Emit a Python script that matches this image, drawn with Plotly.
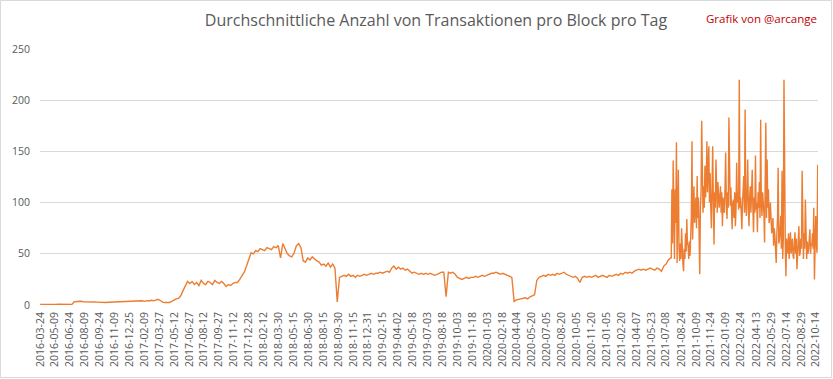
import pandas as pd
import plotly.graph_objects as go

# ---------------- data ----------------
title_text = "Durchschnittliche Anzahl von Transaktionen pro Block pro Tag"
credit_text = "Grafik von @arcange"

# weekly readings, starting 2016-03-24, one value every 7 days
weekly_start = "2016-03-24"
weekly_values = [
    0.6, 0.5, 0.6, 0.7, 0.5, 0.6, 0.6, 0.5, 0.7, 0.6, 0.5, 0.6, 0.6, 0.7, 0.6,
    3.2, 3.5, 4.0, 3.6, 3.2, 3.0, 2.8, 3.0, 3.1, 2.9,
    2.8, 2.6, 2.7, 2.9, 2.5, 2.7, 2.8, 2.6, 3.0, 2.9, 3.1, 3.3, 3.0, 3.4,
    3.6, 3.4, 3.8, 4.0, 3.5, 3.9, 4.2, 3.6, 4.3, 3.9, 4.6, 4.1, 5.0, 5.6, 4.4,
    2.8, 2.4, 2.3, 2.5,
    3.5, 5.0, 6.0, 6.5, 9.0, 14, 19, 23,
    21, 23, 20, 22, 19, 24, 21, 20, 23, 22, 20, 24, 22, 21, 23, 21, 18, 20, 19, 21, 22,
    22, 25, 28, 32, 38, 44, 51, 50,
    53, 52, 55, 54, 53, 56, 55, 54, 57, 56,
    58, 46, 60, 55, 50, 48, 47, 51, 58, 60, 56, 43, 42, 46, 44, 47, 45, 43, 42, 39,
    40, 38, 41, 37, 40, 36, 3, 27, 28,
    29, 28, 30, 28, 29, 27, 29, 28, 29, 30, 29, 30, 31, 30, 31, 31, 32, 31, 32, 33,
    32, 36, 38, 35, 37, 35, 36, 34, 35, 33,
    31, 32, 31, 30, 31, 30, 31, 30, 31, 30, 29, 30, 31, 32, 32, 8, 32, 31, 32, 30,
    27, 26, 25, 26, 27, 26, 27, 27, 28, 27, 28, 29, 28, 29, 30, 31, 31, 32, 31, 30,
    31, 30, 29, 28, 27,
    3.5, 5, 5.5, 6, 6.5, 7, 6, 8, 9, 10, 24,
    27, 28, 29, 28, 30, 29, 30, 29, 31, 30,
    31, 32, 30, 29, 28, 27, 28, 26, 22, 27,
    28, 27, 28, 27, 28, 29, 27, 28, 29, 28,
    27, 29, 28, 29, 30, 29, 31, 30, 32, 31,
    32, 31, 33, 34, 35, 34, 35, 34, 35, 36,
    35, 34, 36, 35, 33, 38, 40, 44, 46,
]

# volatile period, starting 2021-07-24, one value every 2 days
volatile_start = "2021-07-24"
volatile_values = [
    46, 113, 60, 141, 70, 45, 113, 80, 159, 41,
    90, 132, 55, 43, 60, 45, 75, 50, 40, 33,
    55, 45, 70, 52, 84, 60, 58, 45, 62, 48,
    70, 85, 160, 64, 95, 116, 80, 90, 105, 75,
    126, 85, 105, 70, 30, 95, 110, 180, 100, 90,
    116, 95, 136, 105, 120, 160, 110, 125, 155, 100,
    129, 95, 75, 115, 155, 100, 59, 110, 95, 142,
    100, 90, 120, 110, 95, 105, 116, 90, 110, 77,
    105, 97, 90, 115, 149, 100, 84, 110, 95, 183,
    105, 97, 115, 90, 74, 100, 103, 85, 110, 77,
    95, 139, 100, 110, 93, 220, 95, 105, 90, 74,
    100, 115, 126, 90, 191, 100, 87, 110, 142, 95,
    77, 105, 116, 90, 110, 132, 95, 71, 105, 90,
    146, 93, 100, 71, 110, 95, 120, 85, 181, 100,
    87, 110, 103, 90, 61, 100, 178, 85, 142, 95,
    113, 80, 84, 100, 90, 70, 77, 85, 58, 75,
    67, 55, 41, 70, 84, 134, 60, 64, 75, 87,
    55, 131, 45, 65, 220, 60, 58, 28, 65, 58,
    50, 70, 45, 60, 71, 50, 58, 65, 48, 45,
    60, 71, 50, 65, 35, 55, 62, 77, 48, 51,
    65, 55, 131, 60, 45, 70, 55, 103, 60, 45,
    62, 50, 54, 65, 74, 50, 60, 58, 70, 55,
    95, 25, 65, 87, 60, 51, 137,
]

tick_labels = [
    "2016-03-24", "2016-05-09", "2016-06-24", "2016-08-09", "2016-09-24", "2016-11-09",
    "2016-12-25", "2017-02-09", "2017-03-27", "2017-05-12", "2017-06-27", "2017-08-12",
    "2017-09-27", "2017-11-12", "2017-12-28", "2018-02-12", "2018-03-30", "2018-05-15",
    "2018-06-30", "2018-08-15", "2018-09-30", "2018-11-15", "2018-12-31", "2019-02-15",
    "2019-04-02", "2019-05-18", "2019-07-03", "2019-08-18", "2019-10-03", "2019-11-18",
    "2020-01-03", "2020-02-18", "2020-04-04", "2020-05-20", "2020-07-05", "2020-08-20",
    "2020-10-05", "2020-11-20", "2021-01-05", "2021-02-20", "2021-04-07", "2021-05-23",
    "2021-07-08", "2021-08-24", "2021-10-09", "2021-11-24", "2022-01-09", "2022-02-24",
    "2022-04-13", "2022-05-29", "2022-07-14", "2022-08-29", "2022-10-14",
]
y_ticks = [0, 50, 100, 150, 200, 250]

# ---------------- figure ----------------
d1 = pd.date_range(weekly_start, periods=len(weekly_values), freq="7D")
d2 = pd.date_range(volatile_start, periods=len(volatile_values), freq="2D")
x = list(d1) + list(d2)
y = list(weekly_values) + list(volatile_values)

fig = go.Figure()
fig.add_trace(go.Scatter(
    x=x, y=y, mode="lines",
    line=dict(color="#ED7D31", width=1.4),
    hoverinfo="x+y", showlegend=False,
))

W, H = 833, 379
L, R, T, B = 40, 15, 49, 74
pw, ph = W - L - R, H - T - B

def px_x(v):
    return (v - L) / pw

def px_y(v):
    return (H - B - v) / ph

grey = "#595959"
fig.update_layout(
    width=W, height=H,
    margin=dict(l=L, r=R, t=T, b=B, pad=0, autoexpand=False),
    paper_bgcolor="white", plot_bgcolor="white",
    font=dict(family="Open Sans", color=grey),
    title=dict(
        text=title_text, xref="container", yref="container",
        x=436 / W, y=1 - 20 / H, xanchor="center", yanchor="middle",
        font=dict(family="Open Sans", size=16, color=grey),
    ),
    xaxis=dict(
        type="date",
        range=["2016-03-23 12:00", "2022-10-20"],
        tickmode="array", tickvals=tick_labels, ticktext=tick_labels,
        tickangle=-90, showgrid=False, zeroline=False, showline=False,
        ticks="", ticklabelstandoff=4,
        tickfont=dict(family="Open Sans", size=10.5, color=grey),
        fixedrange=True,
    ),
    yaxis=dict(
        range=[0, 250], tickmode="array", tickvals=y_ticks,
        showgrid=True, gridcolor="#D9D9D9", gridwidth=1,
        zeroline=False, showline=False, ticks="", ticklabelstandoff=9,
        tickfont=dict(family="Open Sans", size=10.5, color=grey),
        fixedrange=True,
    ),
    annotations=[dict(
        text=credit_text, xref="paper", yref="paper",
        x=px_x(819), y=px_y(18), xanchor="right", yanchor="middle",
        showarrow=False, font=dict(family="Open Sans", size=11.5, color="#C00000"),
    )],
    shapes=[dict(
        type="rect", xref="paper", yref="paper",
        x0=px_x(0.5), x1=px_x(831.5), y0=px_y(377.5), y1=px_y(0.5),
        line=dict(color="#D9D9D9", width=1), fillcolor="rgba(0,0,0,0)", layer="below",
    )],
)

fig.write_html(
    "out.html",
    config={"displayModeBar": False},
    post_script="document.body.style.margin='0px';document.body.style.overflow='hidden';",
)
